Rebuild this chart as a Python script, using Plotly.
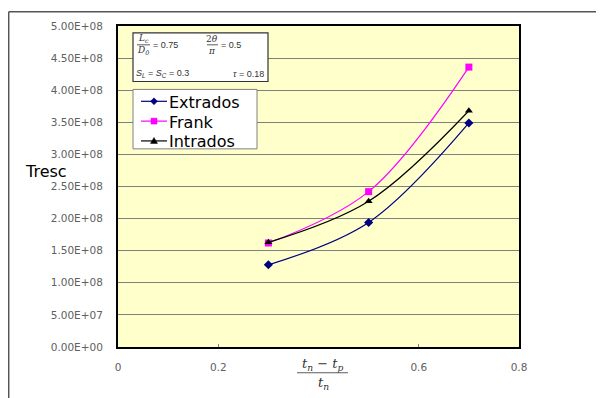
import plotly.graph_objects as go

x_vals = [0.3, 0.5, 0.7]
extrados = [1.28e8, 1.94e8, 3.49e8]
frank = [1.62e8, 2.42e8, 4.36e8]
intrados = [1.63e8, 2.27e8, 3.68e8]

series_names = ["Extrados", "Frank", "Intrados"]
series_colors = ["#000080", "#FF00FF", "#000000"]

y_tickvals = [0, 5e7, 1e8, 1.5e8, 2e8, 2.5e8, 3e8, 3.5e8, 4e8, 4.5e8, 5e8]
y_ticktext = ["0.00E+00", "5.00E+07", "1.00E+08", "1.50E+08", "2.00E+08",
              "2.50E+08", "3.00E+08", "3.50E+08", "4.00E+08", "4.50E+08", "5.00E+08"]
x_tickvals = [0, 0.2, 0.6, 0.8]
x_ticktext = ["0", "0.2", "0.6", "0.8"]

W, H = 604, 398
OFF = 8  # page body margin
# plot area in screen pixels
L, R, T, B = 118, 519, 23, 347

def px(x):
    return (x - L) / (R - L)

def py(y):
    return (B - y) / (B - T)

fig = go.Figure()
symbols = ["diamond", "square", "triangle-up"]
for name, vals, col, sym in zip(series_names, [extrados, frank, intrados], series_colors, symbols):
    fig.add_trace(go.Scatter(x=x_vals, y=vals, name=name, mode="lines+markers",
                             line=dict(color=col, width=1.2, shape="spline"),
                             marker=dict(symbol=sym, size=7, color=col),
                             showlegend=False))

tick_font = dict(family="DejaVu Sans", size=10.5, color="#606060")

fig.update_layout(
    width=W, height=H,
    margin=dict(l=L - OFF, r=W - (R - OFF), t=T - OFF, b=H - (B - OFF)),
    paper_bgcolor="white",
    plot_bgcolor="#FFFFCC",
    showlegend=False,
    xaxis=dict(range=[0, 0.8], tickvals=x_tickvals, ticktext=x_ticktext,
               tickfont=tick_font, showgrid=False, zeroline=False,
               showline=True, linecolor="black", linewidth=2, mirror=True,
               ticks="inside", ticklen=3, tickcolor="#808080", ticklabelstandoff=9),
    yaxis=dict(range=[0, 5e8], tickvals=y_tickvals, ticktext=y_ticktext,
               tickfont=tick_font, showgrid=True, gridcolor="#808080", gridwidth=1,
               zeroline=False, showline=True, linecolor="black", linewidth=2, mirror=True,
               ticks="", ticklabelstandoff=11),
)

shapes = []
# outer frame (top and left)
shapes.append(dict(type="line", xref="paper", yref="paper", x0=px(8.7), x1=px(620), y0=py(8.7), y1=py(8.7),
                   line=dict(color="#555555", width=1.5)))
shapes.append(dict(type="line", xref="paper", yref="paper", x0=px(8.7), x1=px(8.7), y0=py(8.7), y1=py(420),
                   line=dict(color="#555555", width=1.5)))
# parameter box
shapes.append(dict(type="rect", xref="paper", yref="paper", x0=px(133), x1=px(268), y0=py(79), y1=py(30),
                   fillcolor="white", line=dict(color="#333333", width=1.2), layer="above"))
# fraction bars
shapes.append(dict(type="line", xref="paper", yref="paper", x0=px(137), x1=px(150), y0=py(42), y1=py(42),
                   line=dict(color="#333333", width=0.8)))
shapes.append(dict(type="line", xref="paper", yref="paper", x0=px(207), x1=px(218), y0=py(42), y1=py(42),
                   line=dict(color="#333333", width=0.8)))
# x-axis fraction bar
shapes.append(dict(type="line", xref="paper", yref="paper", x0=px(297), x1=px(348), y0=py(373), y1=py(373),
                   line=dict(color="#333333", width=0.8)))

# legend box
shapes.append(dict(type="rect", xref="paper", yref="paper", x0=px(133), x1=px(257), y0=py(147), y1=py(87),
                   fillcolor="white", line=dict(color="#808080", width=1), layer="above"))

def ppath(points):
    return "M " + " L ".join(f"{px(a):.5f},{py(b):.5f}" for a, b in points) + " Z"

row_y = [99, 119, 139]
for i, (name, col) in enumerate(zip(series_names, series_colors)):
    yy = row_y[i]
    shapes.append(dict(type="line", xref="paper", yref="paper", x0=px(141), x1=px(167), y0=py(yy), y1=py(yy),
                       line=dict(color=col, width=1.2), layer="above"))
    cx = 154
    if i == 0:
        pts = [(cx, yy - 3.5), (cx + 3.5, yy), (cx, yy + 3.5), (cx - 3.5, yy)]
    elif i == 1:
        pts = [(cx - 3, yy - 3), (cx + 3, yy - 3), (cx + 3, yy + 3), (cx - 3, yy + 3)]
    else:
        pts = [(cx, yy - 3.5), (cx + 3.5, yy + 2.5), (cx - 3.5, yy + 2.5)]
    shapes.append(dict(type="path", xref="paper", yref="paper", path=ppath(pts),
                       fillcolor=col, line=dict(color=col, width=0.5), layer="above"))
fig.update_layout(shapes=shapes)

serif = "DejaVu Serif, Liberation Serif"
small = dict(family="Liberation Sans, Arial", size=9, color="#333333")
mathf = dict(family=serif, size=9, color="#333333")

def ann(text, x, y, font, xanchor="center"):
    fig.add_annotation(text=text, x=px(x), y=py(y), xref="paper", yref="paper",
                       showarrow=False, font=font, xanchor=xanchor, yanchor="middle")

for i, name in enumerate(series_names):
    ann(name, 167, row_y[i] + 1, dict(family="DejaVu Sans", size=16, color="black"), xanchor="left")

ann("<i>L<sub>c</sub></i>", 143, 36, mathf)
ann("<i>D<sub>0</sub></i>", 143, 48, mathf)
ann("= 0.75", 151, 42, small, xanchor="left")
ann("2<i>θ</i>", 212, 36, mathf)
ann("<i>π</i>", 212, 48, mathf)
ann("= 0.5", 219, 42, small, xanchor="left")
ann("<i>S<sub>L</sub></i> = <i>S<sub>C</sub></i> = 0.3", 134, 71, small, xanchor="left")
ann("<i>τ</i> = 0.18", 266, 71, small, xanchor="right")

# y-axis title
ann("Tresc", 46, 170, dict(family="DejaVu Sans", size=16, color="black"))
# x-axis title fraction
xf = dict(family=serif, size=13, color="#333333")
ann("<i>t<sub>n</sub></i> − <i>t<sub>p</sub></i>", 323, 365, xf)
ann("<i>t<sub>n</sub></i>", 323, 384, xf)

fig.write_html("out.html")
